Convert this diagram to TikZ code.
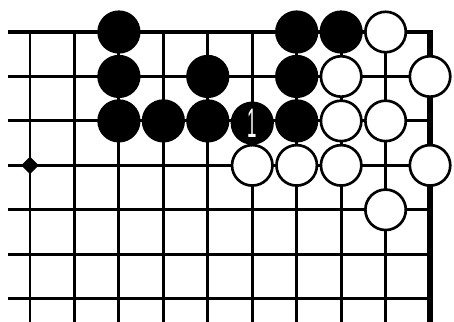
\documentclass[tikz,border=0pt]{standalone}
\usepackage{fontspec}
\newfontfamily\numfont{Liberation Sans}
\tikzset{
  board/.style={line width=1.9pt},
  bstone/.style={circle,fill=black,draw=black,line width=1.2pt,minimum size=0.93cm,inner sep=0pt},
  wstone/.style={circle,fill=white,draw=black,line width=1.7pt,minimum size=0.91cm,inner sep=0pt},
  hoshi/.style={diamond,fill=black,minimum size=0.4cm,inner sep=0pt}
}
\usetikzlibrary{shapes.geometric}
\begin{document}
\begin{tikzpicture}[x=1cm,y=-1cm]
    \useasboundingbox (-0.675,-0.72) rectangle (9.539,6.502);
    % Lineas del tablero.
    \foreach \r in {1,...,6} {
        \draw[board] (-0.5,\r) -- (9,\r);
    }
    \draw[board,line width=2.3pt] (-0.5,0) -- (9,0);
    \foreach \c in {0,...,8} {
        \draw[board] (\c,0) -- (\c,6.6);
    }
    \draw[line width=3.4pt] (9,-0.035) -- (9,6.6);
    \node[hoshi] (hoshi) at (0,3) {};

    % Piedras negras.
    \foreach \c/\r in {2/0,6/0,7/0,2/1,4/1,6/1,2/2,3/2,4/2,6/2} {
        \node[bstone] (b-\c-\r) at (\c,\r) {};
    }
    \node[bstone,text=white,font=\numfont\fontsize{24}{24}\selectfont] (b-5-2) at (5,2.05) {\scalebox{0.45}[1.1]{1}};

    % Piedras blancas.
    \foreach \c/\r in {8/0,7/1,9/1,7/2,8/2,5/3,6/3,7/3,9/3,8/4} {
        \node[wstone] (w-\c-\r) at (\c,\r) {};
    }
\end{tikzpicture}
\end{document}
